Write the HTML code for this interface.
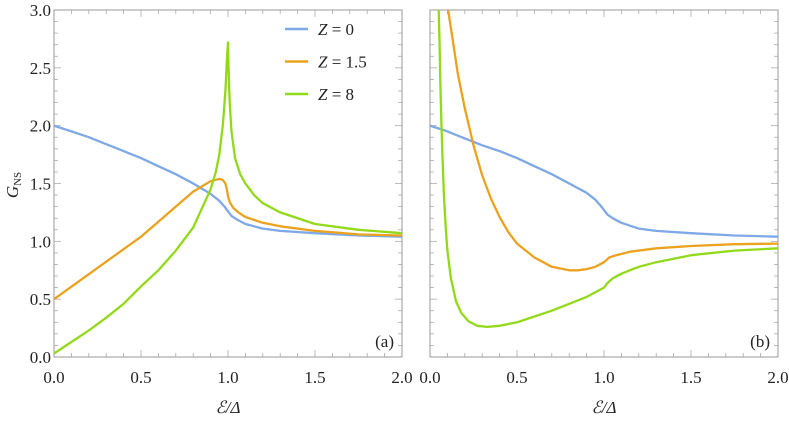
<!DOCTYPE html>
<html><head><meta charset="utf-8"><style>
body{margin:0;background:#fff}
svg text{font-family:"Liberation Serif",serif;fill:#222}
</style></head><body>
<svg id="c" width="789" height="419"></svg>
<script>
const xTicks=[0,0.5,1.0,1.5,2.0];
const yTicks=[0,0.5,1.0,1.5,2.0,2.5,3.0];
const xTickLabels=["0.0","0.5","1.0","1.5","2.0"];
const yTickLabels=["0.0","0.5","1.0","1.5","2.0","2.5","3.0"];
const seriesNames=["Z = 0","Z = 1.5","Z = 8"];
const colors=["#7fa9e6","#eba21e","#92d91a"];
const aX0=[0,0.1,0.2,0.3,0.4,0.5,0.6,0.7,0.8,0.9,0.95,0.98,1.0,1.02,1.05,1.1,1.2,1.3,1.5,1.75,2.0];
const aY0=[2.0,1.95,1.9,1.84,1.78,1.72,1.65,1.58,1.5,1.41,1.35,1.3,1.26,1.22,1.19,1.15,1.11,1.09,1.07,1.05,1.04];
const aX1=[0,0.25,0.5,0.7,0.8,0.9,0.95,0.97,0.985,0.995,1.0,1.01,1.03,1.06,1.1,1.2,1.3,1.5,1.75,2.0];
const aY1=[0.5,0.77,1.04,1.3,1.43,1.52,1.54,1.53,1.5,1.44,1.39,1.34,1.29,1.25,1.21,1.16,1.13,1.09,1.06,1.05];
const aX2=[0,0.1,0.2,0.3,0.4,0.5,0.6,0.7,0.8,0.9,0.93,0.95,0.97,0.985,0.995,1.0,1.003,1.01,1.02,1.04,1.07,1.1,1.15,1.2,1.3,1.5,1.75,2.0];
const aY2=[0.03,0.13,0.23,0.34,0.46,0.61,0.75,0.92,1.12,1.45,1.6,1.75,2.0,2.3,2.6,2.72,2.5,2.2,1.95,1.72,1.58,1.5,1.4,1.33,1.25,1.15,1.1,1.07];
const bX0=[0,0.1,0.2,0.3,0.4,0.5,0.6,0.7,0.8,0.9,0.95,0.98,1.0,1.02,1.05,1.1,1.2,1.3,1.5,1.75,2.0];
const bY0=[2.0,1.95,1.89,1.83,1.78,1.72,1.65,1.58,1.5,1.42,1.36,1.31,1.27,1.23,1.2,1.16,1.11,1.09,1.07,1.05,1.04];
const bX1=[0.104,0.13,0.16,0.2,0.25,0.3,0.35,0.4,0.45,0.5,0.6,0.7,0.8,0.85,0.9,0.95,1.0,1.03,1.07,1.15,1.3,1.5,1.75,2.0];
const bY1=[3.0,2.75,2.45,2.15,1.83,1.57,1.37,1.21,1.08,0.98,0.86,0.78,0.75,0.75,0.76,0.78,0.82,0.86,0.88,0.91,0.94,0.96,0.975,0.98];
const bX2=[0.05,0.055,0.06,0.065,0.07,0.08,0.09,0.1,0.12,0.15,0.18,0.22,0.27,0.33,0.4,0.5,0.6,0.7,0.8,0.9,0.95,1.0,1.02,1.05,1.1,1.2,1.3,1.5,1.75,2.0];
const bY2=[3.0,2.7,2.35,2.05,1.8,1.4,1.12,0.92,0.68,0.48,0.38,0.31,0.27,0.26,0.27,0.3,0.35,0.4,0.46,0.52,0.56,0.6,0.64,0.68,0.72,0.78,0.82,0.88,0.92,0.94];
const NS="http://www.w3.org/2000/svg",svg=document.getElementById('c');
function mk(t,a,p){const e=document.createElementNS(NS,t);for(const k in a)e.setAttribute(k,a[k]);(p||svg).appendChild(e);return e;}
const Y0=357,Y1=10;
const sy=v=>Y0-(v/3)*(Y0-Y1);
function panel(id,L,R,series,tag,showY){
  const g=mk('g',{});
  
  
  const sx=v=>L+(v/2)*(R-L);
  const cp=mk('clipPath',{id:'cp'+id},g);mk('rect',{x:L,y:Y1,width:R-L,height:Y0-Y1},cp);
  for(let i=0;i<=20;i++){const x=sx(i*0.1),len=i%5==0?7:4;
    mk('line',{x1:x,y1:Y0,x2:x,y2:Y0-len,stroke:'#aaa','stroke-width':0.8},g);
    mk('line',{x1:x,y1:Y1,x2:x,y2:Y1+len,stroke:'#aaa','stroke-width':0.8},g);}
  for(let i=0;i<=30;i++){const y=sy(i*0.1),len=i%5==0?7:4;
    mk('line',{x1:L,y1:y,x2:L+len,y2:y,stroke:'#aaa','stroke-width':0.8},g);
    mk('line',{x1:R,y1:y,x2:R-len,y2:y,stroke:'#aaa','stroke-width':0.8},g);}
  mk('rect',{x:L,y:Y1,width:R-L,height:Y0-Y1,fill:'none',stroke:'#999','stroke-width':1},g);
  xTicks.forEach((v,i)=>{const t=mk('text',{x:sx(v),y:383,'text-anchor':'middle','font-size':17},g);t.textContent=xTickLabels[i];
    });
  if(showY)yTicks.forEach((v,i)=>{const t=mk('text',{x:L-3,y:sy(v)+6,'text-anchor':'end','font-size':17},g);t.textContent=yTickLabels[i];
    });
  series.forEach((s,k)=>{const pts=s[0].map((x,i)=>sx(x).toFixed(1)+','+sy(s[1][i]).toFixed(1)).join(' ');
    const p=mk('polyline',{points:pts,fill:'none',stroke:colors[k],'stroke-width':2.3,'stroke-linejoin':'round','clip-path':'url(#cp'+id+')'},g);
    });
  const t=mk('text',{x:R-8,y:Y0-10,'text-anchor':'end','font-size':17},g);t.textContent=tag;
  
  const xl=mk('text',{x:(L+R)/2,y:413,'text-anchor':'middle','font-size':17,'font-style':'italic'},g);xl.textContent='ℰ/Δ';
  
}
panel('a',54,402,[[aX0,aY0],[aX1,aY1],[aX2,aY2]],'(a)',true);
panel('b',430,778,[[bX0,bY0],[bX1,bY1],[bX2,bY2]],'(b)',false);
const yl=mk('text',{transform:'translate(18,185) rotate(-90)','text-anchor':'middle','font-size':17,'font-style':'italic'});
yl.innerHTML='G<tspan font-size="11" font-style="normal" dy="3">NS</tspan>';


seriesNames.forEach((n,k)=>{const y=29+k*32.5;
  const g=mk('g',{});
  
  
  mk('line',{x1:285,y1:y,x2:308,y2:y,stroke:colors[k],'stroke-width':2.5},g);
  const t=mk('text',{x:318,y:y+6,'font-size':17},g);
  const parts=n.split(' = ');t.innerHTML='<tspan font-style="italic">'+parts[0]+'</tspan> = '+parts[1];});
</script>
</body></html>
